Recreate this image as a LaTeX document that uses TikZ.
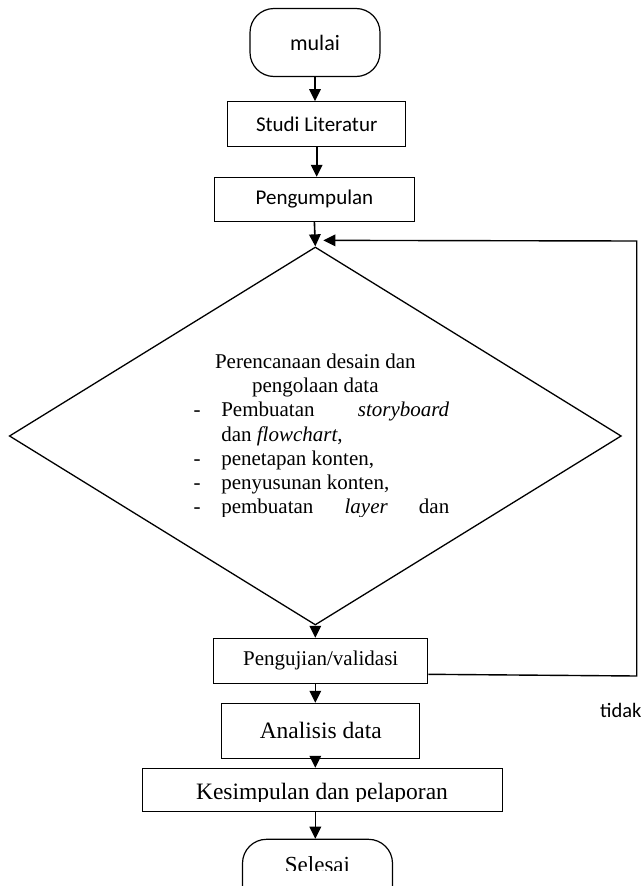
\documentclass[tikz,border=0pt]{standalone}
\usepackage{fontspec}
\setmainfont{Liberation Serif}
\newfontfamily\calibri{Carlito}
\usetikzlibrary{arrows.meta,positioning,shapes.geometric}

\begin{document}
\begin{tikzpicture}[
  x=1pt, y=-1pt,
  every node/.style={font=\fontsize{21}{24.3}\selectfont, inner sep=0pt},
  box/.style={rectangle, draw, line width=1pt},
  terminal/.style={rectangle, draw, line width=1.2pt, rounded corners=24pt},
  decision/.style={diamond, draw, line width=1.3pt, aspect=1.62,
    minimum width=612pt, minimum height=378pt},
  arr/.style={draw, line width=1.6pt, -{Triangle[length=12pt,width=11.5pt]}},
  back/.style={draw, line width=1.4pt, -{Triangle[length=12pt,width=11.5pt]}}
]
\useasboundingbox (0,0) rectangle (643,886);

\node[terminal, minimum width=130pt, minimum height=68pt,
  font=\calibri\fontsize{22}{26}\selectfont] (mulai) at (315,42.5) {mulai};
\node[box, minimum width=178pt, minimum height=45pt,
  font=\calibri\fontsize{21}{25}\selectfont] (studi) at (316.7,124.2) {Studi Literatur};
\node[box, minimum width=200pt, minimum height=44.4pt,
  font=\calibri\fontsize{21}{25}\selectfont] (kumpul) at (314.4,199.5) {Pengumpulan};
\node[decision] (plan) at (315.3,436) {};
\node[box, minimum width=214.4pt, minimum height=45.2pt] (uji) at (320.7,660.9) {Pengujian/validasi};
\node[box, minimum width=198pt, minimum height=55pt,
  font=\fontsize{23.5}{28}\selectfont] (analisis) at (320.8,730.8) {Analisis data};
\node[box, minimum width=360pt, minimum height=43.4pt] (simpul) at (322,790) {};
\node[terminal, minimum width=150pt, minimum height=70pt] (selesai) at (317.5,874.3) {};
\node[font=\calibri\fontsize{20.5}{24}\selectfont] (tidak) at (620.8,710) {tidak};

% teks yang terpotong kotaknya
\begin{scope}
  \clip (0,300) rectangle (643,516.5);
  \node[align=left] (plantxt) at (plan.center) {%
    \makebox[268pt]{Perencanaan desain dan}\\
    \makebox[268pt]{pengolaan data}\\
    \makebox[40pt][l]{\hspace{12.4pt}-}\makebox[228pt][s]{Pembuatan\hfill\textit{storyboard}}\\
    \makebox[40pt][l]{}dan \textit{flowchart},\\
    \makebox[40pt][l]{\hspace{12.4pt}-}penetapan konten,\\
    \makebox[40pt][l]{\hspace{12.4pt}-}penyusunan konten,\\
    \makebox[40pt][l]{\hspace{12.4pt}-}\makebox[228pt][s]{pembuatan\hfill\textit{layer}\hfill dan}};
\end{scope}
\begin{scope}
  \clip (simpul.north west) rectangle (643,801.7);
  \node[anchor=base, font=\fontsize{23.5}{28}\selectfont] (simpultxt) at (322,799.5) {Kesimpulan dan pelaporan};
\end{scope}
\begin{scope}
  \clip (240,842) rectangle (395,870);
  \node[anchor=base, font=\fontsize{23}{27}\selectfont] (selesaitxt) at (317.5,872) {Selesai};
\end{scope}

% alur utama
\draw[arr] (mulai.south) -- (mulai.south |- studi.north);
\draw[arr] (studi.south) -- (studi.south |- kumpul.north);
\draw[arr] (kumpul.south) -- (plan.north);
\draw[arr] (plan.south) -- (plan.south |- uji.north);
\draw[arr] (uji.south -| plan.south) -- (analisis.north -| plan.south);
\draw[arr] (analisis.south -| plan.south) -- (simpul.north -| plan.south);
\draw[arr] (simpul.south -| plan.south) -- (selesai.north -| plan.south);

% kembali jika tidak valid
\coordinate (balik1) at (636.7,676);
\coordinate (balik2) at (636.7,241);
\draw[back] ([yshift=-13.4pt]uji.east) -- (balik1) -- (balik2) -- ([xshift=8pt,yshift=6pt]plan.north);
\end{tikzpicture}
\end{document}
